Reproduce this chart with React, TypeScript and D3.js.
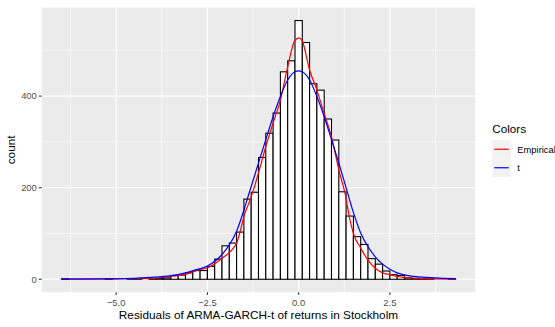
import React from "react";
import * as d3 from "d3";

// Histogram of residuals: bins of width 0.2, left edges from -6.5
const binStart = -6.5;
const binWidth = 0.2;
const binCounts = [
  1, 0, 0, 0, 0, 0, 1, 0, 0, 1,
  1, 0, 1, 2, 3, 8, 9, 14, 19, 19,
  28, 44, 73, 79, 103, 175, 190, 266, 319, 363,
  453, 477, 565, 517, 427, 413, 350, 304, 191, 138,
  93, 76, 45, 33, 18, 10, 8, 3, 2, 1,
  1, 0, 0, 1,
];

// Kernel density of the residuals, scaled to counts
const empiricalX = [-6.5, -5.5, -4.5, -4.0, -3.5, -3.0, -2.8, -2.5, -2.1, -1.7, -1.47, -1.33, -1.1, -0.9, -0.7, -0.5, -0.3, -0.1, 0.02, 0.1, 0.3, 0.5, 0.7, 0.9, 1.1, 1.27, 1.4, 1.5, 1.7, 1.9, 2.1, 2.3, 2.5, 2.7, 2.9, 3.2, 3.6, 4.3];
const empiricalY = [0.5, 1, 1.5, 2, 6, 13, 19, 25, 46, 79, 145, 173, 232, 290, 341, 391, 464, 522, 527, 520, 457, 413, 362, 311, 239, 188, 132, 100, 68, 42, 24, 14, 10, 6, 3.5, 2, 1, 0.5];

// Fitted t density, scaled to counts
const tX = [-6.5, -5.0, -4.07, -3.5, -3.16, -2.84, -2.5, -2.11, -1.7, -1.33, -1.1, -0.9, -0.7, -0.5, -0.3, -0.1, 0, 0.1, 0.3, 0.5, 0.7, 0.9, 1.1, 1.3, 1.5, 1.7, 1.9, 2.1, 2.3, 2.5, 2.7, 3.0, 3.5, 4.0, 4.3];
const tY = [0.3, 1, 4, 8, 13, 20, 29, 53, 105, 195, 254, 305, 355, 399, 435, 453, 455, 453, 435, 399, 355, 305, 254, 200, 146, 101, 71, 49, 33, 22, 14, 8, 4, 2, 1.5];

const xTicks = [-5.0, -2.5, 0.0, 2.5];
const xMinor = [-6.25, -3.75, -1.25, 1.25, 3.75];
const yTicks = [0, 200, 400];
const yMinor = [100, 300, 500];

const legendLabels = ["Empirical", "t"];
const legendColors = ["#FF0000", "#0000FF"];

const W = 555;
const H = 327;
const panel = { left: 41.7, right: 475.3, top: 7.6, bottom: 292.2 };
const font = "'Liberation Sans', Arial, Helvetica, sans-serif";
const smallSize = 9.4;
const titleSize = 11.8;

export default function App() {
  const dataMin = binStart;
  const dataMax = binStart + binWidth * binCounts.length;
  const xPad = (dataMax - dataMin) * 0.05;
  const x = d3
    .scaleLinear()
    .domain([dataMin - xPad, dataMax + xPad])
    .range([panel.left, panel.right]);

  const yMax = d3.max(binCounts) as number;
  const y = d3
    .scaleLinear()
    .domain([-yMax * 0.05, yMax * 1.05])
    .range([panel.bottom, panel.top]);

  const line = d3
    .line<[number, number]>()
    .x((d) => x(d[0]))
    .y((d) => y(d[1]))
    .curve(d3.curveMonotoneX);

  const empPath = line(empiricalX.map((v, i) => [v, empiricalY[i]]) as [number, number][]) || "";
  const tPath = line(tX.map((v, i) => [v, tY[i]]) as [number, number][]) || "";

  const fmt = d3.format(".1f");

  const legendX = 492.3;
  const keyW = 18.5;
  const keyH = 18.5;
  const keyTop = 140;

  return (
    <svg
      width={W}
      height={H}
      style={{ position: "fixed", left: 0, top: 0, background: "#FFFFFF" }}
      fontFamily={font}
    >
      <rect x={0} y={0} width={W} height={H} fill="#FFFFFF" />
      {/* panel */}
      <rect
        x={panel.left}
        y={panel.top}
        width={panel.right - panel.left}
        height={panel.bottom - panel.top}
        fill="#EBEBEB"
      />
      {/* minor grid */}
      {xMinor.map((v) => (
        <line key={"xm" + v} x1={x(v)} x2={x(v)} y1={panel.top} y2={panel.bottom} stroke="#FFFFFF" strokeWidth={0.55} />
      ))}
      {yMinor.map((v) => (
        <line key={"ym" + v} x1={panel.left} x2={panel.right} y1={y(v)} y2={y(v)} stroke="#FFFFFF" strokeWidth={0.55} />
      ))}
      {/* major grid */}
      {xTicks.map((v) => (
        <line key={"xg" + v} x1={x(v)} x2={x(v)} y1={panel.top} y2={panel.bottom} stroke="#FFFFFF" strokeWidth={1.07} />
      ))}
      {yTicks.map((v) => (
        <line key={"yg" + v} x1={panel.left} x2={panel.right} y1={y(v)} y2={y(v)} stroke="#FFFFFF" strokeWidth={1.07} />
      ))}

      {/* histogram bars */}
      {binCounts.map((c, i) => {
        const x0 = binStart + i * binWidth;
        const x1 = x0 + binWidth;
        return (
          <rect
            key={"b" + i}
            x={x(x0)}
            y={y(c)}
            width={x(x1) - x(x0)}
            height={y(0) - y(c)}
            fill="#FFFFFF"
            stroke="#000000"
            strokeWidth={1.1}
          />
        );
      })}

      {/* density curves */}
      <path d={empPath} fill="none" stroke={legendColors[0]} strokeWidth={1.2} />
      <path d={tPath} fill="none" stroke={legendColors[1]} strokeWidth={1.2} />

      {/* x axis */}
      {xTicks.map((v) => (
        <g key={"xt" + v}>
          <line x1={x(v)} x2={x(v)} y1={panel.bottom} y2={panel.bottom + 2.75} stroke="#333333" strokeWidth={1.07} />
          <text x={x(v)} y={panel.bottom + 13.3} fontSize={smallSize} fill="#4D4D4D" textAnchor="middle">
            {fmt(v)}
          </text>
        </g>
      ))}
      {/* y axis */}
      {yTicks.map((v) => (
        <g key={"yt" + v}>
          <line x1={panel.left - 2.75} x2={panel.left} y1={y(v)} y2={y(v)} stroke="#333333" strokeWidth={1.07} />
          <text x={panel.left - 4.9} y={y(v) + 3.4} fontSize={smallSize} fill="#4D4D4D" textAnchor="end">
            {v}
          </text>
        </g>
      ))}

      {/* axis titles */}
      <text
        x={(panel.left + panel.right) / 2}
        y={319}
        fontSize={titleSize}
        fill="#000000"
        textAnchor="middle"
      >
        Residuals of ARMA-GARCH-t of returns in Stockholm
      </text>
      <text
        transform={`translate(15.4, ${(panel.top + panel.bottom) / 2}) rotate(-90)`}
        fontSize={titleSize}
        fill="#000000"
        textAnchor="middle"
      >
        count
      </text>

      {/* legend */}
      <text x={legendX} y={133.3} fontSize={11.7} fill="#000000">
        Colors
      </text>
      {legendLabels.map((lab, i) => {
        const top = keyTop + i * keyH;
        return (
          <g key={"lg" + lab}>
            <rect x={legendX} y={top} width={keyW} height={keyH} fill="#F2F2F2" />
            <line
              x1={legendX + 2}
              x2={legendX + keyW - 2}
              y1={top + keyH / 2}
              y2={top + keyH / 2}
              stroke={legendColors[i]}
              strokeWidth={1.2}
            />
            <text x={517.3} y={top + keyH / 2 + 3.3} fontSize={smallSize} fill="#000000">
              {lab}
            </text>
          </g>
        );
      })}
    </svg>
  );
}
